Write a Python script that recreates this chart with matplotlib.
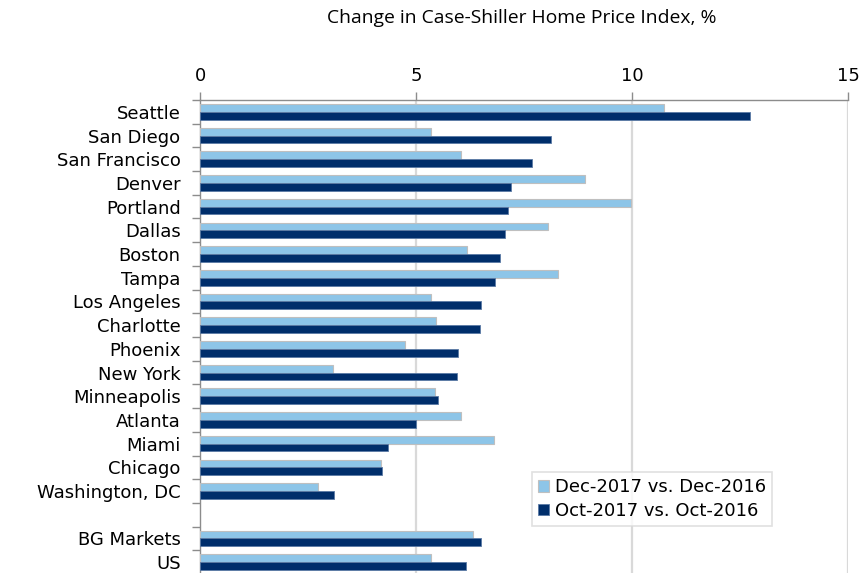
import numpy as np
import matplotlib
matplotlib.use("Agg")
import matplotlib.pyplot as plt

cities = ["Seattle", "San Diego", "San Francisco", "Denver", "Portland", "Dallas",
          "Boston", "Tampa", "Los Angeles", "Charlotte", "Phoenix", "New York",
          "Minneapolis", "Atlanta", "Miami", "Chicago", "Washington, DC",
          "", "BG Markets", "US"]
dec = [10.75, 5.35, 6.04, 8.91, 9.98, 8.06, 6.17, 8.29, 5.35, 5.47, 4.74, 3.09,
       5.43, 6.04, 6.80, 4.19, 2.72, np.nan, 6.32, 5.35]
octo = [12.72, 8.13, 7.69, 7.19, 7.12, 7.06, 6.94, 6.84, 6.51, 6.48, 5.98, 5.94,
        5.50, 5.00, 4.35, 4.21, 3.10, np.nan, 6.51, 6.15]
xticks = [0, 5, 10, 15]

LIGHT = "#8DC5E8"
DARK = "#002E6B"
GRID = "#D9D9D9"
AXC = "#8C8C8C"

fig = plt.figure(figsize=(8.66, 5.73), dpi=100)
ax = fig.add_axes([200 / 866, -1 / 573, 648 / 866, 474 / 573])

y = np.arange(len(cities))
h = 0.33
ax.barh(y - h / 2, dec, height=h, color=LIGHT, edgecolor="#BFBFBF", linewidth=0.8,
        label="Dec-2017 vs. Dec-2016", zorder=3)
ax.barh(y + h / 2, octo, height=h, color=DARK, edgecolor="#5A7AA5", linewidth=0.6,
        label="Oct-2017 vs. Oct-2016", zorder=3)

ax.set_xlim(0, 15)
ax.set_ylim(len(cities) - 0.5, -0.5)
ax.xaxis.tick_top()
ax.set_xticks(xticks)
ax.tick_params(axis="x", labelsize=13, length=6, width=1, color=AXC, pad=5)
for x in xticks[1:]:
    ax.axvline(x, color=GRID, lw=1.6, zorder=1)

ax.set_yticks(y)
ax.set_yticklabels(cities, fontsize=13)
ax.set_yticks(np.arange(len(cities) + 1) - 0.5, minor=True)
ax.tick_params(axis="y", which="major", length=0, pad=14)
ax.tick_params(axis="y", which="minor", length=6, width=1, color=AXC)

for s in ("right", "bottom"):
    ax.spines[s].set_visible(False)
for s in ("top", "left"):
    ax.spines[s].set_color(AXC)
    ax.spines[s].set_linewidth(1)

fig.text(522 / 866, 1 - 18 / 573, "Change in Case-Shiller Home Price Index, %",
         ha="center", va="center", fontsize=13.9, family="Open Sans")

leg = ax.legend(loc="lower left", bbox_to_anchor=((532 - 200) / 648, (574 - 526) / 474),
                fontsize=13, frameon=True, fancybox=False, borderpad=0.35,
                handlelength=0.6, handleheight=0.6, handletextpad=0.3,
                labelspacing=0.3, borderaxespad=0)
leg.get_frame().set_edgecolor("#D9D9D9")
leg.get_frame().set_linewidth(1.2)

fig.savefig("out.png", dpi=100)
